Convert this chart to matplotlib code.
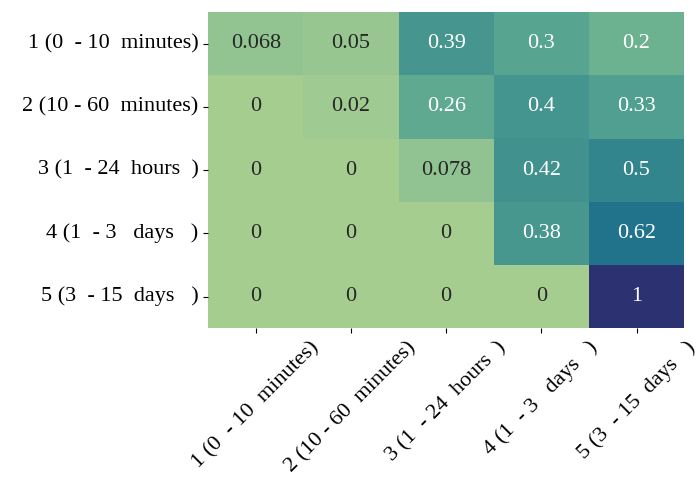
import numpy as np
import matplotlib
matplotlib.use("Agg")
import matplotlib.pyplot as plt
import seaborn as sns

labels = ["1 (0  - 10  minutes)", "2 (10 - 60  minutes)", "3 (1  - 24  hours  )",
          "4 (1  - 3   days   )", "5 (3  - 15  days   )"]
values = np.array([
    [0.068, 0.05, 0.39, 0.3, 0.2],
    [0, 0.02, 0.26, 0.4, 0.33],
    [0, 0, 0.078, 0.42, 0.5],
    [0, 0, 0, 0.38, 0.62],
    [0, 0, 0, 0, 1],
])

plt.rcParams["font.family"] = ["Liberation Serif", "DejaVu Serif"]
plt.rcParams["font.size"] = 16

fig = plt.figure(figsize=(6.96, 4.84), dpi=100)
ax = fig.add_axes([0.299, 0.322, 0.684, 0.653])
sns.heatmap(values, annot=True, cmap="crest", cbar=False, ax=ax,
            xticklabels=labels, yticklabels=labels, annot_kws={"size": 16})
ax.set_yticklabels(labels, rotation=0)
ax.set_xticklabels(labels, rotation=45)
fig.savefig("out.png", dpi=100)
